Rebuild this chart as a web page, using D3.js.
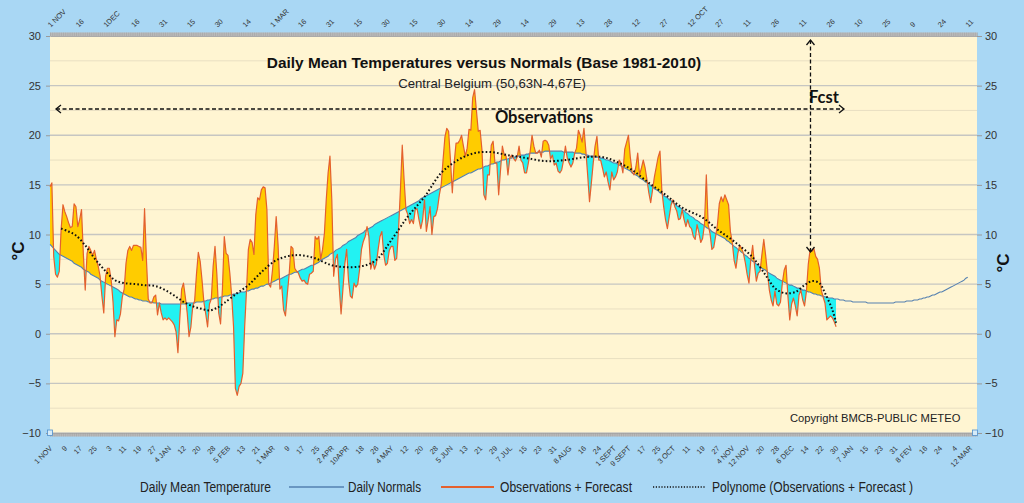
<!DOCTYPE html>
<html>
<head>
<meta charset="utf-8">
<script src="https://cdn.jsdelivr.net/npm/d3@7"></script>
<style>
  html, body { margin: 0; padding: 0; background: #a9d7f4; }
  svg { display: block; font-family: "Liberation Sans", Arial, sans-serif; }
</style>
</head>
<body>
<div id="chart"></div>
<script>
// daily mean temperature, day 0 = 1 NOV (observations + forecast)
var obs = [
  14.8,15.2,7.8,6.0,5.7,6.3,10.5,13.0,12.3,11.8,
  11.2,10.7,10.8,13.1,12.8,10.8,11.5,12.5,8.0,4.4,
  8.1,8.8,8.4,7.9,8.4,7.5,6.8,5.8,3.8,2.1,
  5.8,6.6,6.6,5.4,3.2,-0.3,1.4,1.3,2.0,3.7,
  4.5,7.1,8.4,8.8,8.4,8.9,8.9,8.9,8.8,8.7,
  7.4,12.6,7.5,3.5,3.1,3.1,3.7,3.9,1.9,3.1,
  2.1,1.4,1.6,1.4,1.6,1.4,1.2,0.9,0.2,-1.9,
  1.5,4.5,5.1,3.7,2.1,-0.3,0.7,2.8,3.3,6.0,
  8.2,7.3,5.4,3.2,2.0,0.7,3.0,3.5,6.8,8.8,
  6.0,2.1,1.0,4.5,9.8,8.1,7.9,6.1,3.8,0.7,
  -5.5,-6.2,-5.3,-5.0,-4.0,0.7,4.4,8.5,9.5,9.2,
  8.0,12.0,13.7,13.5,14.5,14.8,14.7,12.5,5.0,4.7,
  6.4,8.8,11.8,9.0,4.5,4.8,2.4,1.8,4.0,6.0,
  8.8,8.6,6.6,6.3,6.1,5.6,5.3,5.4,5.1,5.0,
  6.0,6.1,6.3,9.8,9.5,9.8,7.5,8.5,10.1,13.5,
  16.2,17.9,13.5,5.8,7.5,8.0,4.7,2.0,4.5,7.0,
  8.5,5.4,3.8,3.6,5.1,4.7,5.0,6.5,8.5,9.3,
  9.8,10.8,9.8,6.5,7.3,6.5,7.0,8.5,9.8,10.3,
  8.0,6.9,7.1,8.4,8.8,8.8,7.4,7.6,10.5,14.5,
  19.0,15.5,12.5,12.0,11.1,11.5,11.1,12.5,12.6,11.5,
  10.6,11.5,13.5,10.3,11.5,12.8,10.0,11.8,11.9,12.6,
  14.0,15.0,17.5,19.8,20.7,20.4,17.5,14.2,17.2,19.2,
  19.2,19.5,20.0,18.9,17.9,18.7,20.6,20.5,23.8,24.6,
  22.5,20.4,20.5,18.5,14.0,13.5,16.0,16.0,19.0,19.4,
  17.2,17.2,14.0,16.5,18.9,18.0,17.9,16.0,17.7,18.0,
  17.7,17.4,17.8,18.9,17.5,17.2,16.2,16.2,17.2,18.4,
  20.0,18.9,18.2,18.2,18.5,17.8,19.4,19.5,19.4,19.0,
  17.6,18.0,17.0,17.2,16.4,16.2,16.5,17.5,18.9,17.7,
  17.2,16.8,17.2,18.2,18.7,20.5,20.0,19.3,20.7,18.5,
  16.0,13.3,15.2,17.2,18.9,19.9,17.5,17.5,16.7,15.8,
  16.3,15.3,14.5,16.3,15.5,15.8,16.3,17.5,17.2,16.2,
  18.6,19.3,20.0,17.8,16.3,16.0,16.8,18.2,16.0,16.7,
  17.5,16.7,15.5,14.2,13.2,14.5,15.8,16.8,17.8,18.4,
  14.5,12.8,11.5,10.6,11.8,13.0,13.5,12.8,12.4,11.5,
  11.6,12.5,11.5,10.8,11.5,10.8,10.6,9.8,9.5,11.0,
  10.2,9.2,9.6,11.0,16.0,11.0,10.1,8.5,8.7,9.8,
  11.0,13.1,13.8,13.3,14.0,13.5,13.0,10.3,9.2,7.4,
  6.6,8.1,8.9,8.6,8.1,7.2,6.0,5.1,7.5,8.9,
  6.9,5.3,6.1,6.3,8.0,9.5,7.9,6.1,4.4,3.4,
  2.8,4.3,3.0,2.8,3.2,5.1,6.4,6.9,3.8,1.4,
  3.0,3.6,2.8,1.8,3.9,4.4,3.4,2.8,4.3,7.0,
  8.5,8.3,8.6,7.8,7.5,6.6,4.4,3.7,3.1,1.4,
  1.6,1.8,1.6,1.2,0.7
];

// daily normals 1981-2010, day 0 = 1 NOV
var normals = [
  9.0,8.8,8.6,8.4,8.2,8.0,7.9,7.8,7.7,7.6,
  7.5,7.4,7.3,7.1,7.0,6.9,6.8,6.7,6.5,6.4,
  6.3,6.2,6.0,5.9,5.8,5.7,5.6,5.4,5.3,5.2,
  5.1,5.0,4.9,4.8,4.7,4.6,4.5,4.4,4.2,4.1,
  4.0,3.9,3.8,3.7,3.7,3.6,3.5,3.5,3.4,3.4,
  3.3,3.3,3.3,3.2,3.2,3.2,3.1,3.1,3.1,3.1,
  3.0,3.0,3.0,3.0,3.0,3.0,3.0,3.0,3.0,3.0,
  3.0,3.0,3.0,3.0,3.1,3.1,3.1,3.1,3.1,3.2,
  3.2,3.2,3.2,3.3,3.3,3.4,3.4,3.5,3.5,3.6,
  3.6,3.6,3.7,3.7,3.8,3.8,3.8,3.9,3.9,4.0,
  4.0,4.1,4.1,4.2,4.2,4.2,4.3,4.3,4.4,4.5,
  4.5,4.6,4.6,4.7,4.8,4.8,4.9,5.0,5.0,5.1,
  5.2,5.3,5.4,5.5,5.5,5.6,5.7,5.8,5.9,6.0,
  6.0,6.1,6.2,6.2,6.3,6.4,6.5,6.5,6.6,6.7,
  6.8,6.9,6.9,7.0,7.1,7.2,7.4,7.5,7.6,7.7,
  7.8,8.0,8.1,8.2,8.4,8.5,8.6,8.7,8.9,9.0,
  9.1,9.3,9.4,9.5,9.6,9.7,9.9,10.0,10.1,10.2,
  10.4,10.5,10.6,10.7,10.8,11.0,11.1,11.2,11.3,11.4,
  11.5,11.6,11.7,11.8,11.9,12.0,12.1,12.2,12.3,12.4,
  12.5,12.6,12.7,12.8,12.9,13.0,13.1,13.2,13.3,13.4,
  13.6,13.7,13.8,13.9,14.0,14.1,14.2,14.3,14.4,14.5,
  14.6,14.7,14.8,14.9,15.0,15.1,15.2,15.3,15.4,15.5,
  15.6,15.7,15.8,15.9,16.0,16.1,16.2,16.2,16.3,16.4,
  16.5,16.6,16.6,16.7,16.8,16.9,16.9,17.0,17.1,17.1,
  17.2,17.3,17.3,17.4,17.5,17.5,17.6,17.6,17.7,17.7,
  17.8,17.8,17.9,17.9,18.0,18.0,18.0,18.1,18.1,18.2,
  18.2,18.2,18.2,18.3,18.3,18.3,18.3,18.4,18.4,18.4,
  18.4,18.4,18.4,18.4,18.4,18.4,18.4,18.3,18.3,18.3,
  18.3,18.3,18.3,18.2,18.2,18.2,18.2,18.1,18.1,18.0,
  18.0,17.9,17.9,17.9,17.8,17.8,17.8,17.7,17.7,17.6,
  17.5,17.5,17.4,17.3,17.2,17.2,17.1,17.0,16.9,16.8,
  16.7,16.6,16.5,16.4,16.2,16.1,16.0,15.9,15.7,15.6,
  15.5,15.3,15.2,15.1,14.9,14.8,14.6,14.5,14.4,14.2,
  14.1,13.9,13.8,13.7,13.5,13.4,13.2,13.1,12.9,12.8,
  12.7,12.5,12.4,12.2,12.1,11.9,11.8,11.7,11.5,11.4,
  11.3,11.1,11.0,10.9,10.7,10.6,10.5,10.3,10.2,10.1,
  10.0,9.9,9.8,9.7,9.6,9.4,9.3,9.1,9.0,8.8,
  8.7,8.5,8.4,8.2,8.1,7.9,7.8,7.6,7.5,7.3,
  7.2,7.0,6.9,6.7,6.6,6.5,6.4,6.2,6.1,6.0,
  5.9,5.8,5.6,5.5,5.4,5.3,5.2,5.1,5.0,4.9,
  4.9,4.8,4.7,4.6,4.6,4.5,4.4,4.4,4.3,4.2,
  4.2,4.1,4.0,4.0,3.9,3.9,3.8,3.8,3.7,3.7,
  3.6,3.6,3.6,3.5,3.5,3.5,3.4,3.4,3.4,3.3,
  3.3,3.3,3.3,3.2,3.2,3.2,3.2,3.2,3.2,3.2,
  3.2,3.1,3.1,3.1,3.1,3.1,3.1,3.1,3.1,3.1,
  3.1,3.1,3.1,3.1,3.1,3.1,3.2,3.2,3.2,3.2,
  3.2,3.2,3.3,3.3,3.3,3.3,3.4,3.4,3.4,3.5,
  3.5,3.6,3.6,3.7,3.7,3.8,3.9,3.9,4.0,4.1,
  4.2,4.2,4.3,4.4,4.5,4.6,4.7,4.8,4.9,5.0,
  5.1,5.2,5.3,5.4,5.6,5.7
];

// polynomial trend (observations + forecast), read at these days
var polyDays = [6,10,14,19,24,30,35,40,46,51,57,64,69,73,78,82,86,90,94,101,107,114,121,126,131,136,143,152,161,168,173,177,184,193,202,211,220,229,238,247,257,267,278,289,298,306,314,323,332,341,352,360,369,379,386,391,396,402,407,411,415,418,422,424];
var polyVals = [10.6,10.3,9.9,8.9,7.6,6.3,5.4,5.1,5.0,4.9,4.8,4.2,3.6,3.1,2.7,2.5,2.35,2.6,3.1,4.1,4.9,6.2,7.3,7.7,7.9,7.9,7.6,6.9,6.7,6.8,7.1,7.6,9.4,11.8,13.8,16.2,17.5,18.2,18.3,18.0,17.7,17.4,17.5,17.8,17.8,17.3,16.5,15.2,14.0,12.7,11.7,10.5,9.3,7.7,5.9,4.6,4.1,4.2,4.9,5.3,5.1,4.1,2.4,1.1];

// tick labels: top every 15 days, bottom every 8 days
var topLabels = ["1 NOV","16","1DEC","16","31","15","30","14","1 MAR","16","31","15","30","15","30","14","29","14","29","13","28","12","27","12 OCT","27","11","26","11","26","10","25","9","24","11"];
var bottomLabels = ["1 NOV","9","17","25","3","11","19","27","4 JAN","12","20","28","5 FEB","13","21","1 MAR","9","17","25","2 APR","10APR","18","26","4 MAY","12","20","28","5 JUN","13","21","29","7 JUL","15","23","31","8 AUG","16","24","1 SEPT","9 SEPT","17","25","3 OCT","11","19","27","4 NOV","12 NOV","20","28","6 DEC","14","22","30","7 JAN","15","23","31","8 FEV","16","24","4","12 MAR"];
var yTicks = [-10,-5,0,5,10,15,20,25,30];
var legendLabels = ["Daily Mean Temperature","Daily Normals","Observations + Forecast","Polynome (Observations + Forecast )"];

var width = 1024, height = 503;
var fcstDay = 411;

var svg = d3.select("#chart").append("svg")
    .attr("width", width)
    .attr("height", height);

svg.append("rect").attr("width", width).attr("height", height).attr("fill", "#a9d7f4");

var x = d3.scaleLinear().domain([0, 500]).range([50, 977]);
var y = d3.scaleLinear().domain([-10, 30]).range([433, 36]);

// plot area
svg.append("rect")
    .attr("x", x(0)).attr("y", y(30))
    .attr("width", x(500) - x(0)).attr("height", y(-10) - y(30))
    .attr("fill", "#fff5d2");

// gridlines: major every 5, minor every 2.5
var grid = svg.append("g");
d3.range(-10, 30.01, 2.5).forEach(function(v){
    var major = (v % 5 === 0);
    grid.append("line")
        .attr("x1", x(0)).attr("x2", x(500))
        .attr("y1", y(v)).attr("y2", y(v))
        .attr("stroke", major ? "#c6c6c2" : "#e9dfc2")
        .attr("stroke-width", major ? 1.4 : 1);
});

// fills between observations and normals
var nObs = normals.slice(0, obs.length);
var defs = svg.append("defs");
defs.append("clipPath").attr("id", "clip-above").append("path")
    .attr("d", d3.area().x(function(d, i){ return x(i); }).y0(function(d){ return y(d); }).y1(0)(nObs));
defs.append("clipPath").attr("id", "clip-below").append("path")
    .attr("d", d3.area().x(function(d, i){ return x(i); }).y0(function(d){ return y(d); }).y1(height)(nObs));

var diffArea = d3.area()
    .x(function(d, i){ return x(i); })
    .y0(function(d, i){ return y(normals[i]); })
    .y1(function(d){ return y(d); });

svg.append("path").datum(obs)
    .attr("d", diffArea)
    .attr("fill", "#ffcc00")
    .attr("clip-path", "url(#clip-above)");
svg.append("path").datum(obs)
    .attr("d", diffArea)
    .attr("fill", "#22f2f2")
    .attr("clip-path", "url(#clip-below)");

// normals line
svg.append("path").datum(normals)
    .attr("d", d3.line().x(function(d, i){ return x(i); }).y(function(d){ return y(d); }))
    .attr("fill", "none")
    .attr("stroke", "#5580b0")
    .attr("stroke-width", 1.1);

// observations line
svg.append("path").datum(obs)
    .attr("d", d3.line().x(function(d, i){ return x(i); }).y(function(d){ return y(d); }))
    .attr("fill", "none")
    .attr("stroke", "#e4602e")
    .attr("stroke-width", 1.2)
    .attr("stroke-linejoin", "round");

// polynomial trend, dotted
var polyData = polyDays.map(function(d, i){ return [d, polyVals[i]]; });
svg.append("path").datum(polyData)
    .attr("d", d3.line().curve(d3.curveCatmullRom).x(function(d){ return x(d[0]); }).y(function(d){ return y(d[1]); }))
    .attr("fill", "none")
    .attr("stroke", "#111")
    .attr("stroke-width", 2)
    .attr("stroke-dasharray", "1.6,2.2");

// top / bottom tick strips (daily ticks)
var days = d3.range(0, 501);
svg.append("rect").attr("x", x(0)).attr("y", y(30) - 3.5).attr("width", x(500) - x(0)).attr("height", 3.5).attr("fill", "#bdbdbd");
svg.append("rect").attr("x", x(0)).attr("y", y(-10)).attr("width", x(500) - x(0)).attr("height", 3.5).attr("fill", "#bdbdbd");
var topAxis = svg.append("g")
    .attr("transform", "translate(0," + y(30) + ")")
    .call(d3.axisTop(x).tickValues(days).tickSize(3.5).tickSizeOuter(0).tickFormat(""));
var bottomAxis = svg.append("g")
    .attr("transform", "translate(0," + y(-10) + ")")
    .call(d3.axisBottom(x).tickValues(days).tickSize(3.5).tickSizeOuter(0).tickFormat(""));
[topAxis, bottomAxis].forEach(function(a){
    a.selectAll("line").attr("stroke", "#a0a0a0").attr("stroke-width", 0.6);
    a.select(".domain").attr("stroke", "#aaa");
});

// date labels
svg.append("g").selectAll("text")
    .data(topLabels).enter().append("text")
    .attr("transform", function(d, i){ return "translate(" + (x(i * 15) - 1) + ",26) rotate(-45)"; })
    .attr("dy", "0.35em")
    .attr("font-size", 7.4)
    .attr("fill", "#333")
    .text(function(d){ return d; });

svg.append("g").selectAll("text")
    .data(bottomLabels).enter().append("text")
    .attr("transform", function(d, i){ return "translate(" + (x(i * 8) + 1) + ",447) rotate(-45)"; })
    .attr("dy", "0.35em")
    .attr("text-anchor", "end")
    .attr("font-size", 7.4)
    .attr("fill", "#333")
    .text(function(d){ return d; });

// y axes, left and right
var yl = svg.append("g").attr("transform", "translate(" + x(0) + ",0)")
    .call(d3.axisLeft(y).tickValues(yTicks).tickSize(4).tickPadding(5));
var yr = svg.append("g").attr("transform", "translate(" + x(500) + ",0)")
    .call(d3.axisRight(y).tickValues(yTicks).tickSize(5).tickPadding(3));
[yl, yr].forEach(function(a){
    a.select(".domain").remove();
    a.selectAll("line").attr("stroke", "#9a9a9a");
    a.selectAll("text").attr("font-size", 11).attr("fill", "#333").attr("font-family", "Liberation Sans, Arial, sans-serif");
});

// little markers at -10
[x(0), x(500) - 2].forEach(function(px){
    svg.append("rect").attr("x", px - 2.5).attr("y", y(-10) - 3).attr("width", 5).attr("height", 5.5)
        .attr("fill", "#d6ebf8").attr("stroke", "#4f8fcc").attr("stroke-width", 0.8);
});

// unit labels
svg.append("text")
    .attr("transform", "translate(24,251) rotate(-90)")
    .attr("text-anchor", "middle")
    .attr("font-size", 17).attr("font-weight", "bold").attr("fill", "#111")
    .text("°C");
svg.append("text")
    .attr("transform", "translate(1009,263) rotate(-90)")
    .attr("text-anchor", "middle")
    .attr("font-size", 17).attr("font-weight", "bold").attr("fill", "#111")
    .text("°C");

// titles
svg.append("text")
    .attr("x", 484).attr("y", 68)
    .attr("text-anchor", "middle")
    .attr("font-size", 15.4).attr("font-weight", "bold").attr("fill", "#111")
    .text("Daily Mean Temperatures versus Normals (Base 1981-2010)");
svg.append("text")
    .attr("x", 492).attr("y", 88)
    .attr("text-anchor", "middle")
    .attr("font-size", 13.2).attr("fill", "#222")
    .text("Central Belgium (50,63N-4,67E)");

// observation / forecast arrows
var ann = svg.append("g").attr("stroke", "#111").attr("stroke-width", 1.3).attr("fill", "none");
var arrowY = 109;
ann.append("line").attr("x1", 56).attr("x2", 844).attr("y1", arrowY).attr("y2", arrowY).attr("stroke-dasharray", "4,2.5");
ann.append("path").attr("d", "M61," + (arrowY - 4) + "L56," + arrowY + "L61," + (arrowY + 4));
ann.append("path").attr("d", "M839," + (arrowY - 4) + "L844," + arrowY + "L839," + (arrowY + 4));
var fx = x(fcstDay) - 1.5;
ann.append("line").attr("x1", fx).attr("x2", fx).attr("y1", 40).attr("y2", 252).attr("stroke-dasharray", "4,2.5");
ann.append("path").attr("d", "M" + (fx - 4) + ",45L" + fx + ",40L" + (fx + 4) + ",45");
ann.append("path").attr("d", "M" + (fx - 4) + ",247L" + fx + ",252L" + (fx + 4) + ",247");

svg.append("text")
    .attr("x", 544).attr("y", 123)
    .attr("text-anchor", "middle")
    .attr("font-family", "Lato, 'Open Sans', sans-serif")
    .attr("font-size", 16.5).attr("font-weight", "bold").attr("fill", "#111")
    .text("Observations");
svg.append("text")
    .attr("x", 809).attr("y", 103)
    .attr("font-family", "Lato, 'Open Sans', sans-serif")
    .attr("font-size", 16.5).attr("font-weight", "bold").attr("fill", "#111")
    .text("Fcst");

svg.append("text")
    .attr("x", 790).attr("y", 422)
    .attr("font-size", 11.2).attr("fill", "#222")
    .text("Copyright BMCB-PUBLIC METEO");

// legend
var legY = 487;
var legend = svg.append("g").attr("font-family", "'Liberation Sans Narrow', 'Liberation Sans', Arial, sans-serif").attr("font-size", 14).attr("fill", "#222");
var legText = [[140, 131], [348, 73], [500, 132], [712, 201]];
legendLabels.forEach(function(lab, i){
    legend.append("text")
        .attr("x", legText[i][0]).attr("y", legY).attr("dy", "0.35em")
        .attr("textLength", legText[i][1]).attr("lengthAdjust", "spacingAndGlyphs")
        .text(lab);
});
legend.append("line").attr("x1", 289).attr("x2", 344).attr("y1", legY).attr("y2", legY)
    .attr("stroke", "#5580b0").attr("stroke-width", 1.3);
legend.append("line").attr("x1", 441).attr("x2", 494).attr("y1", legY).attr("y2", legY)
    .attr("stroke", "#e4602e").attr("stroke-width", 1.8);
legend.append("line").attr("x1", 653).attr("x2", 706).attr("y1", legY).attr("y2", legY)
    .attr("stroke", "#111").attr("stroke-width", 1.6).attr("stroke-dasharray", "1.2,1.6");
</script>
</body>
</html>
